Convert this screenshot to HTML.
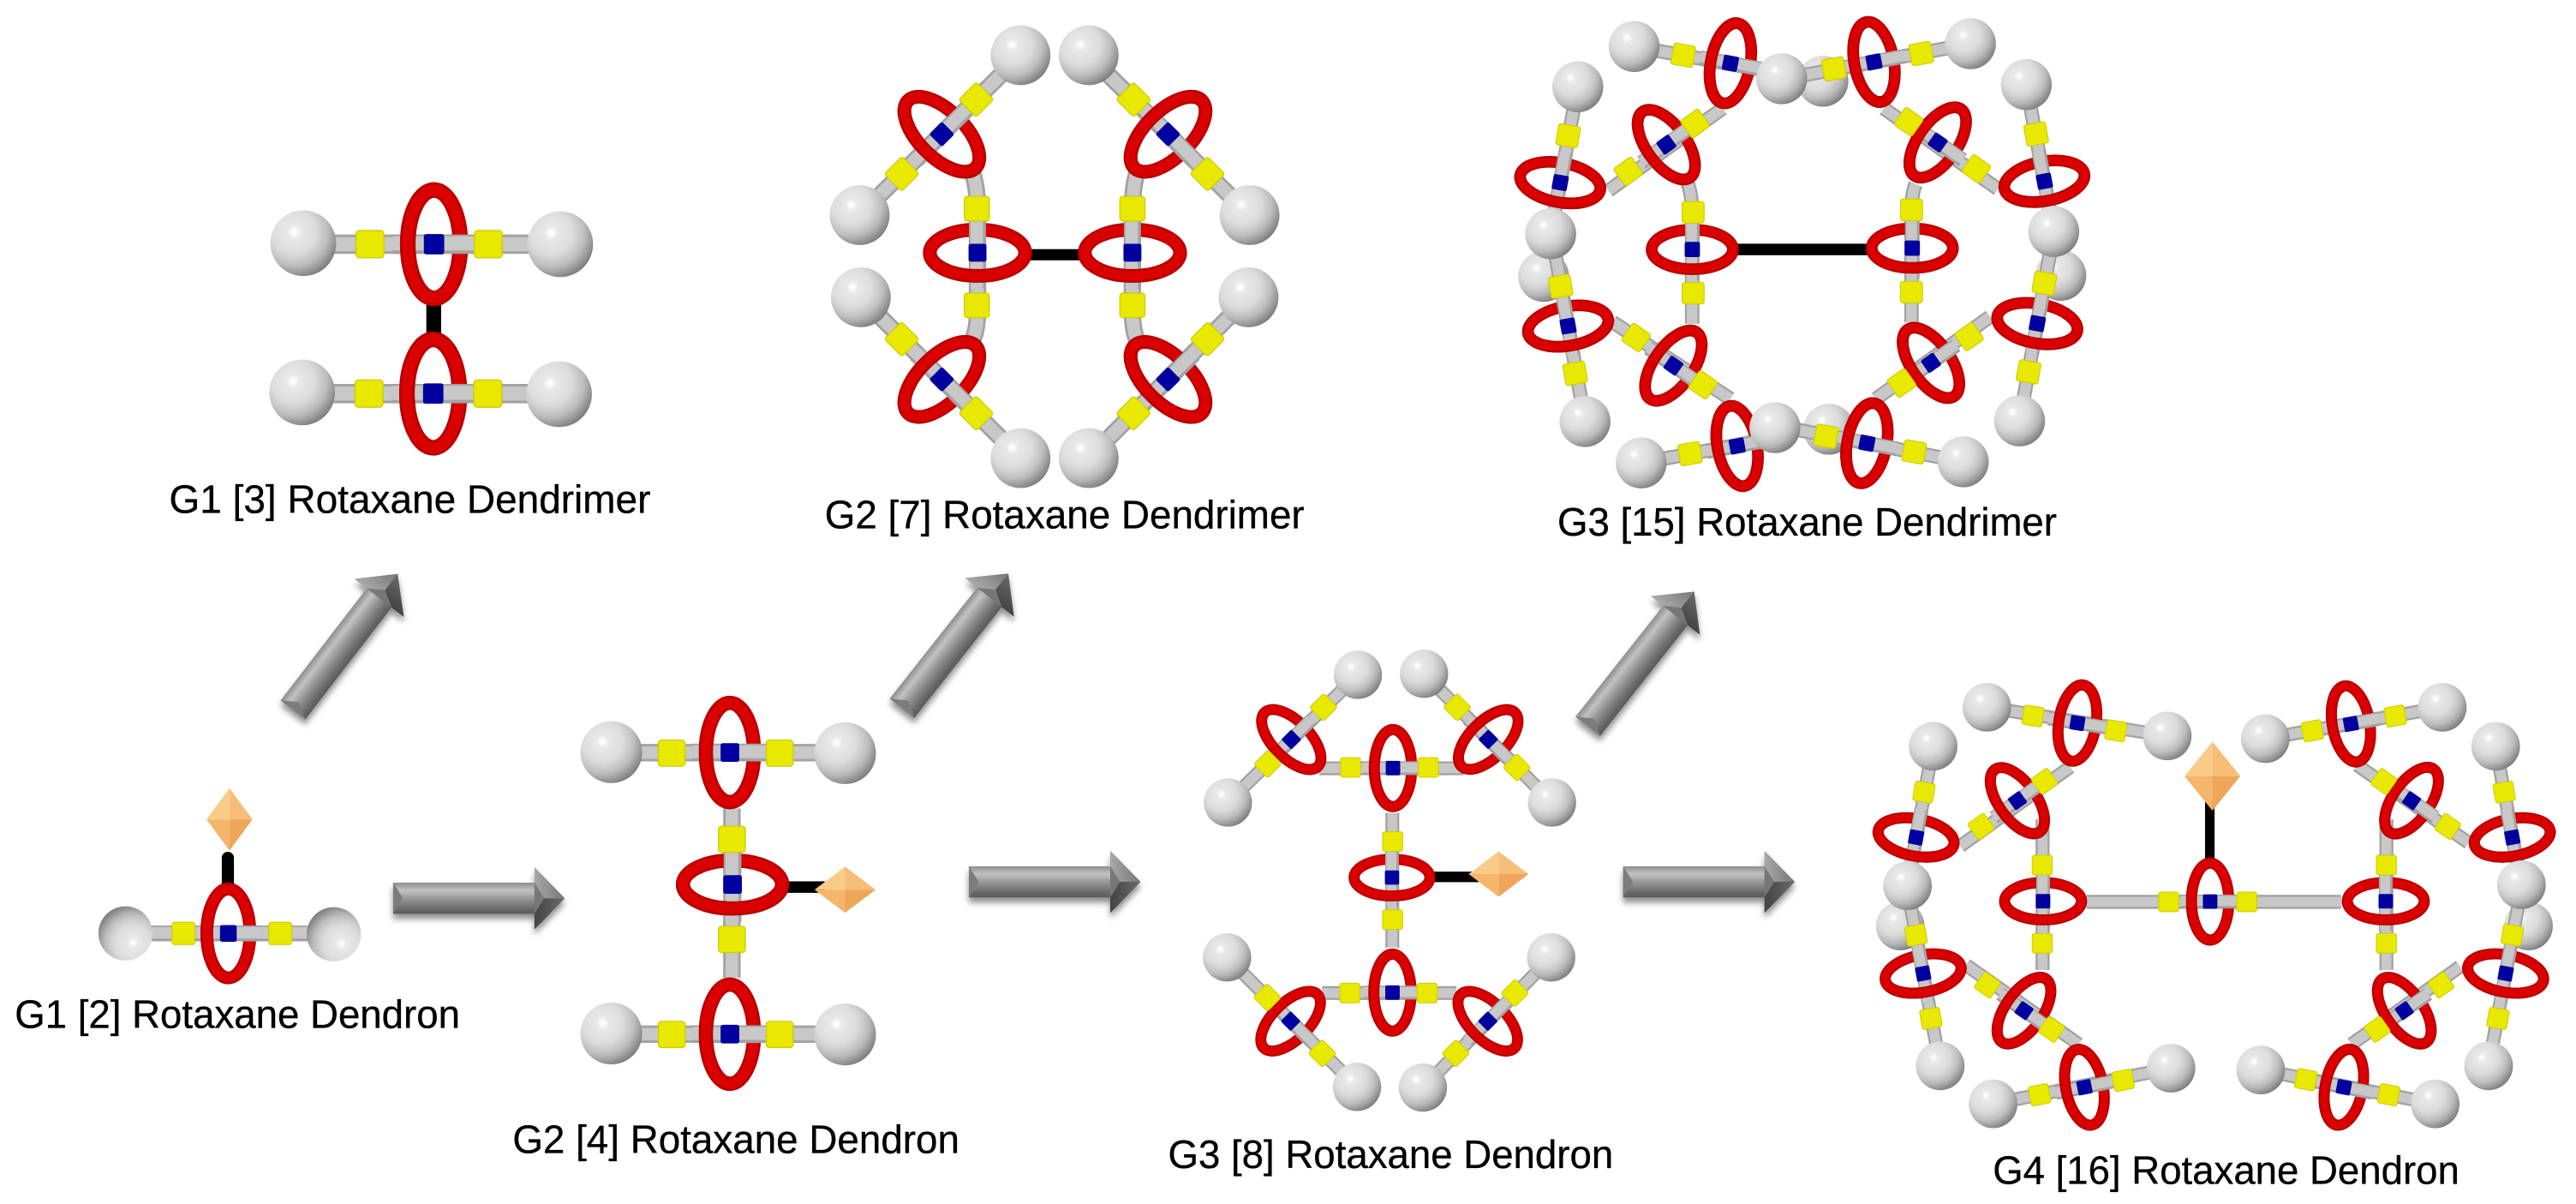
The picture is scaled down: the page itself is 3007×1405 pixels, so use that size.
<!DOCTYPE html>
<html><head><meta charset="utf-8"><title>Rotaxane Dendrimers and Dendrons</title>
<style>html,body{margin:0;padding:0;background:#fff}svg{display:block}text{font-family:"Liberation Sans",sans-serif;font-size:24px;fill:#000;stroke:#000;stroke-width:.18px}</style></head>
<body>
<svg xmlns="http://www.w3.org/2000/svg" width="3007" height="1405" viewBox="0 0 1568 732.65" preserveAspectRatio="none">
<defs>
<radialGradient id="bg" cx=".36" cy=".33" r=".74"><stop offset="0" stop-color="#fff"/><stop offset=".07" stop-color="#f7f7f7"/><stop offset=".13" stop-color="#e9e9e9"/><stop offset=".45" stop-color="#dcdcdc"/><stop offset=".7" stop-color="#bcbcbc"/><stop offset=".9" stop-color="#8c8c8c"/><stop offset="1" stop-color="#757575"/></radialGradient>
<linearGradient id="sh" x1="0" y1="0" x2="0" y2="1"><stop offset="0" stop-color="#8e8e8e"/><stop offset=".25" stop-color="#c2c2c2"/><stop offset=".5" stop-color="#999"/><stop offset=".8" stop-color="#6e6e6e"/><stop offset="1" stop-color="#595959"/></linearGradient>
<linearGradient id="hu" x1="0" y1="0" x2="1" y2="0"><stop offset="0" stop-color="#a8a8a8"/><stop offset="1" stop-color="#777"/></linearGradient>
<linearGradient id="hl" x1="0" y1="0" x2="1" y2="0"><stop offset="0" stop-color="#444"/><stop offset="1" stop-color="#6a6a6a"/></linearGradient>
<filter id="sd" x="-20%" y="-20%" width="140%" height="150%"><feGaussianBlur in="SourceAlpha" stdDeviation="2"/><feOffset dy="3"/><feComponentTransfer><feFuncA type="linear" slope=".45"/></feComponentTransfer><feMerge><feMergeNode/><feMergeNode in="SourceGraphic"/></feMerge></filter>
<g id="b"><circle r="20" fill="url(#bg)"/></g>
<g id="y"><rect x="-8.5" y="-8.3" width="17" height="16.6" rx="2" fill="#e8e800" stroke="#cccc00" stroke-width=".7"/></g>
<g id="u">
<ellipse rx="16" ry="33" fill="none" stroke="#b80000" stroke-width="9.5"/>
<ellipse rx="16" ry="33" fill="none" stroke="#da0000" stroke-width="6.4"/>
<rect x="-25" y="-5.9" width="50" height="11.8" fill="#a2a2a2"/>
<rect x="-25" y="-4.8" width="50" height="8.6" fill="#c8c8c8"/>
<rect x="-6.2" y="-6.2" width="12.4" height="12.4" rx="1.5" fill="#0000a0"/>
<path d="M0,-33A16,33 0 0 0 0,33" fill="none" stroke="#b80000" stroke-width="9.5"/>
<path d="M0,-33A16,33 0 0 0 0,33" fill="none" stroke="#da0000" stroke-width="6.4"/>
</g>
<g id="d"><path d="M0,-1L0,0L-1,0Z" fill="#f9cb88"/><path d="M0,-1L1,0L0,0Z" fill="#f6be78"/><path d="M-1,0L0,0L0,1Z" fill="#f5b56a"/><path d="M1,0L0,1L0,0Z" fill="#eda65a"/></g>
<g id="a"><path d="M0,-9.5H86V9.5H0Z" fill="url(#sh)"/><path d="M86,-19L104.5,0H86Z" fill="url(#hu)"/><path d="M86,19L104.5,0H86Z" fill="url(#hl)"/><path d="M86,-9.5V9.5L92,0Z" fill="#777"/><path d="M0,-9.5L6,0L0,9.5Z" fill="#7c7c7c"/></g>
</defs>
<rect width="1568" height="733" fill="#fff"/>

<!-- arrows -->
<g filter="url(#sd)"><use href="#a" transform="translate(178.3 432) rotate(-52.4)"/></g>
<g filter="url(#sd)"><use href="#a" transform="translate(549 431) rotate(-51.7)"/></g>
<g filter="url(#sd)"><use href="#a" transform="translate(966.5 442) rotate(-51.7)"/></g>
<g filter="url(#sd)"><use href="#a" transform="translate(239.3 546.6)"/></g>
<g filter="url(#sd)"><use href="#a" transform="translate(589.8 536.6)"/></g>
<g filter="url(#sd)"><use href="#a" transform="translate(988 536.6)"/></g>

<!-- G1 [3] dendrimer -->
<rect x="259.5" y="180" width="9" height="30" fill="#000"/>
<g fill="none" stroke="#a2a2a2" stroke-width="11.8"><path id="p1" d="M184,148.6H341M184,239.5H340"/></g>
<use href="#p1" fill="none" stroke="#c8c8c8" stroke-width="8.6"/>
<use href="#u" transform="translate(264.2 148.6)"/>
<use href="#u" transform="translate(263.7 239.5)"/>
<use href="#y" x="225.2" y="148.6"/><use href="#y" x="297.2" y="148.6"/><use href="#y" x="224.6" y="239.5"/><use href="#y" x="296.9" y="239.5"/>
<use href="#b" x="184.6" y="148"/><use href="#b" x="341" y="148.6"/><use href="#b" x="183.9" y="238.8"/><use href="#b" x="340.3" y="239.9"/>

<!-- G2 [7] dendrimer -->
<rect x="625" y="151.6" width="35" height="6.8" fill="#000"/>
<g fill="none" stroke="#a2a2a2" stroke-width="10.6"><path id="p2" d="M621.2,33.6L523.3,130.9M662.7,33.6L760.6,130.9M524,180.9L621.2,278.8M760,180.9L662.7,278.8M592,105Q595,115 595,127V190Q595,200 592,207M692,105Q689.3,115 689.3,127V190Q689.3,200 692,207"/></g>
<use href="#p2" fill="none" stroke="#c8c8c8" stroke-width="7.6"/>
<use href="#u" transform="translate(595 153.8) rotate(-90) scale(.88)"/>
<use href="#u" transform="translate(689.3 153.8) rotate(-90) scale(.88)"/>
<use href="#u" transform="translate(573.3 81.7) rotate(-45) scale(.88)"/>
<use href="#u" transform="translate(711 81.7) rotate(45) scale(.88)"/>
<use href="#u" transform="translate(573.3 230.9) rotate(45) scale(.88)"/>
<use href="#u" transform="translate(711 230.9) rotate(-45) scale(.88)"/>
<use href="#y" transform="translate(594.6 127) scale(.9)"/><use href="#y" transform="translate(594.6 185.8) scale(.9)"/><use href="#y" transform="translate(689.3 127) scale(.9)"/><use href="#y" transform="translate(689.3 185.8) scale(.9)"/>
<use href="#y" transform="translate(594.2 60.6) rotate(-45) scale(.9)"/><use href="#y" transform="translate(548.9 105.8) rotate(-45) scale(.9)"/>
<use href="#y" transform="translate(690 60.6) rotate(45) scale(.9)"/><use href="#y" transform="translate(735 105.8) rotate(45) scale(.9)"/>
<use href="#y" transform="translate(548.9 206.4) rotate(45) scale(.9)"/><use href="#y" transform="translate(594.2 251.5) rotate(45) scale(.9)"/>
<use href="#y" transform="translate(735 206.4) rotate(-45) scale(.9)"/><use href="#y" transform="translate(690 251.5) rotate(-45) scale(.9)"/>
<use href="#b" transform="translate(621.2 33.6) scale(.91)"/><use href="#b" transform="translate(662.7 33.6) scale(.91)"/><use href="#b" transform="translate(523.3 130.9) scale(.91)"/><use href="#b" transform="translate(760.6 130.9) scale(.91)"/>
<use href="#b" transform="translate(524 180.9) scale(.91)"/><use href="#b" transform="translate(760 180.9) scale(.91)"/><use href="#b" transform="translate(621.2 278.8) scale(.91)"/><use href="#b" transform="translate(662.7 278.8) scale(.91)"/>

<!-- G3 [15] dendrimer -->
<use href="#b" transform="translate(1109.6 49.4) scale(.775)"/><use href="#b" transform="translate(939.6 168.2) scale(.775)"/><use href="#b" transform="translate(1113.2 261.2) scale(.775)"/><use href="#b" transform="translate(1254.4 167.6) scale(.775)"/>
<rect x="1055" y="148.3" width="84" height="7" fill="#000"/>
<g fill="none" stroke="#a2a2a2" stroke-width="8.8"><path id="p3" d="M994.7,28.3L1085,44.8M1085,48.2L1199.4,26.6M960.4,52.8L943.9,142.2M946.3,152L964.8,256.5M999,281.7L1085,265.6M1085,259.8L1195,281M1233.4,51.5L1250.1,140.9M1248.2,152L1229.3,256.1M1048.5,66L979.1,116M1146.7,66L1216.1,115M1053.3,242.7L981.5,195.9M1211.3,192.7L1141.9,242.7M1027,111Q1030,118 1030,130V197M1166,112Q1163.5,118 1163.5,130V196"/></g>
<use href="#p3" fill="none" stroke="#c8c8c8" stroke-width="6.4"/>
<use href="#u" transform="translate(1030.1 151.8) rotate(-90) scale(.75)"/><use href="#u" transform="translate(1164 151) rotate(-90) scale(.75)"/>
<use href="#u" transform="translate(1014.3 88) rotate(-36) scale(.75)"/><use href="#u" transform="translate(1179.5 86.7) rotate(35) scale(.75)"/>
<use href="#u" transform="translate(1018.6 222.5) rotate(35) scale(.75)"/><use href="#u" transform="translate(1175.4 220.8) rotate(-35) scale(.75)"/>
<use href="#u" transform="translate(1053.3 38.5) rotate(10.7) scale(.75)"/><use href="#u" transform="translate(1140.7 37.7) rotate(-10.7) scale(.75)"/>
<use href="#u" transform="translate(949.7 111.1) rotate(-79.6) scale(.75)"/><use href="#u" transform="translate(954.5 198.4) rotate(-100) scale(.75)"/>
<use href="#u" transform="translate(1057.4 271.4) rotate(-10.7) scale(.75)"/><use href="#u" transform="translate(1136.4 269.7) rotate(10.7) scale(.75)"/>
<use href="#u" transform="translate(1244.4 110.3) rotate(-100.6) scale(.75)"/><use href="#u" transform="translate(1240.1 196.9) rotate(-79.7) scale(.75)"/>
<use href="#y" transform="translate(1024.6 33.6) rotate(10) scale(.79)"/><use href="#y" transform="translate(1116.3 41.9) rotate(-10) scale(.79)"/><use href="#y" transform="translate(1169.4 32.6) rotate(-10) scale(.79)"/>
<use href="#y" transform="translate(1031.8 75.2) rotate(-36) scale(.79)"/><use href="#y" transform="translate(991.1 104.3) rotate(-36) scale(.79)"/>
<use href="#y" transform="translate(954.5 82.6) rotate(10) scale(.79)"/><use href="#y" transform="translate(949.9 174.2) rotate(-10) scale(.79)"/><use href="#y" transform="translate(958.8 227.2) rotate(-10) scale(.79)"/>
<use href="#y" transform="translate(1239.4 81.5) rotate(-10) scale(.79)"/><use href="#y" transform="translate(1244.4 172.4) rotate(10) scale(.79)"/><use href="#y" transform="translate(1234.8 226.3) rotate(10) scale(.79)"/>
<use href="#y" transform="translate(1028.7 276.1) rotate(-10) scale(.79)"/><use href="#y" transform="translate(1111.5 265.5) rotate(10) scale(.79)"/><use href="#y" transform="translate(1165.1 275) rotate(10) scale(.79)"/>
<use href="#y" transform="translate(1030.6 129.2) scale(.79)"/><use href="#y" transform="translate(1030.6 178.4) scale(.79)"/><use href="#y" transform="translate(1163.5 127.7) scale(.79)"/><use href="#y" transform="translate(1163.5 177.8) scale(.79)"/>
<use href="#y" transform="translate(1161.8 74.1) rotate(35) scale(.79)"/><use href="#y" transform="translate(1203 102.8) rotate(35) scale(.79)"/>
<use href="#y" transform="translate(995.9 205.4) rotate(35) scale(.79)"/><use href="#y" transform="translate(1036.6 234.2) rotate(35) scale(.79)"/>
<use href="#y" transform="translate(1198.6 204.8) rotate(-35) scale(.79)"/><use href="#y" transform="translate(1157.5 233.1) rotate(-35) scale(.79)"/>
<use href="#b" transform="translate(994.7 28.3) scale(.775)"/><use href="#b" transform="translate(1084.5 47.9) scale(.775)"/><use href="#b" transform="translate(1199.4 26.6) scale(.775)"/>
<use href="#b" transform="translate(960.4 52.8) scale(.775)"/><use href="#b" transform="translate(943.9 142.2) scale(.775)"/><use href="#b" transform="translate(964.8 256.5) scale(.775)"/>
<use href="#b" transform="translate(999 281.7) scale(.775)"/><use href="#b" transform="translate(1080.4 260.2) scale(.775)"/><use href="#b" transform="translate(1195 281) scale(.775)"/>
<use href="#b" transform="translate(1233.4 51.5) scale(.775)"/><use href="#b" transform="translate(1250.1 140.9) scale(.775)"/><use href="#b" transform="translate(1229.3 256.1) scale(.775)"/>

<!-- G1 [2] dendron -->
<path d="M138.7,540V522" stroke="#000" stroke-width="7.4" stroke-linecap="round" fill="none"/>
<use href="#d" transform="translate(139.7 498.6) scale(14 19)"/>
<path d="M76,568H203" stroke="#a2a2a2" stroke-width="9.6" fill="none"/><path d="M76,567.6H203" stroke="#c8c8c8" stroke-width="7" fill="none"/>
<use href="#u" transform="translate(139 568) scale(.82)"/>
<use href="#y" transform="translate(111.7 568) scale(.82)"/><use href="#y" transform="translate(170.6 568) scale(.82)"/>
<use href="#b" transform="translate(76.4 568) rotate(180) scale(.825)"/><use href="#b" transform="translate(203.2 568.5) rotate(180) scale(.825)"/>

<!-- G2 [4] dendron -->
<rect x="478" y="536.3" width="24" height="7" fill="#000"/>
<use href="#d" transform="translate(514.4 541.4) scale(18.6 14)"/>
<g fill="none" stroke="#a2a2a2" stroke-width="10.6"><path id="p4" d="M372,458H514M372,629.3H514M445.5,492V595"/></g>
<use href="#p4" fill="none" stroke="#c8c8c8" stroke-width="7.6"/>
<use href="#u" transform="translate(444.3 457.9) scale(.915)"/>
<use href="#u" transform="translate(445.9 538.2) rotate(-90) scale(.915)"/>
<use href="#u" transform="translate(444.3 629.3) scale(.915)"/>
<use href="#y" transform="translate(408.9 458.3) scale(.96)"/><use href="#y" transform="translate(474.6 458.3) scale(.96)"/>
<use href="#y" transform="translate(445.5 510.7) scale(.96)"/><use href="#y" transform="translate(445.5 571.6) scale(.96)"/>
<use href="#y" transform="translate(408.9 629.5) scale(.96)"/><use href="#y" transform="translate(474.6 629.5) scale(.96)"/>
<use href="#b" transform="translate(372.1 457.7) scale(.94)"/><use href="#b" transform="translate(514.4 458.3) scale(.94)"/><use href="#b" transform="translate(372.1 628.9) scale(.94)"/><use href="#b" transform="translate(514.4 629.5) scale(.94)"/>

<!-- G3 [8] dendron -->
<rect x="872" y="530.4" width="28" height="6.4" fill="#000"/>
<use href="#d" transform="translate(912.2 531.9) scale(18.2 13.8)"/>
<g fill="none" stroke="#a2a2a2" stroke-width="8.4"><path id="p5" d="M826.5,410.6L747.4,488.3M866.8,410L944.7,488.3M746.9,582.6L826,661.4M944.2,582.6L866.1,661.8M803,467.5H890.8M804.8,604.3H886.5M847.5,494.7V576.6"/></g>
<use href="#p5" fill="none" stroke="#c8c8c8" stroke-width="6"/>
<use href="#u" transform="translate(847.3 534) rotate(-90) scale(.7)"/>
<use href="#u" transform="translate(847.9 467.4) scale(.71)"/>
<use href="#u" transform="translate(847.6 604) scale(.71)"/>
<use href="#u" transform="translate(786 450) rotate(-44.5) scale(.7)"/>
<use href="#u" transform="translate(905.9 450) rotate(45) scale(.7)"/>
<use href="#u" transform="translate(785.6 621.4) rotate(45) scale(.7)"/>
<use href="#u" transform="translate(905.6 621.4) rotate(-45) scale(.7)"/>
<use href="#y" transform="translate(847.7 512.1) scale(.72)"/><use href="#y" transform="translate(847.7 559.6) scale(.72)"/>
<use href="#y" transform="translate(822.1 467) scale(.72)"/><use href="#y" transform="translate(869.4 467) scale(.72)"/>
<use href="#y" transform="translate(821.6 604.3) scale(.72)"/><use href="#y" transform="translate(868.7 604.3) scale(.72)"/>
<use href="#y" transform="translate(805.6 430.4) rotate(-45) scale(.72)"/><use href="#y" transform="translate(771.7 464.9) rotate(-45) scale(.72)"/>
<use href="#y" transform="translate(887 430.4) rotate(45) scale(.72)"/><use href="#y" transform="translate(923.3 467) rotate(45) scale(.72)"/>
<use href="#y" transform="translate(771.4 606.9) rotate(45) scale(.72)"/><use href="#y" transform="translate(804.8 641) rotate(45) scale(.72)"/>
<use href="#y" transform="translate(922.1 604.3) rotate(-45) scale(.72)"/><use href="#y" transform="translate(886.1 641) rotate(-45) scale(.72)"/>
<use href="#b" transform="translate(826.5 410.6) scale(.735)"/><use href="#b" transform="translate(866.8 410) scale(.735)"/><use href="#b" transform="translate(747.4 488.3) scale(.735)"/><use href="#b" transform="translate(944.7 488.3) scale(.735)"/>
<use href="#b" transform="translate(746.9 582.6) scale(.735)"/><use href="#b" transform="translate(944.2 582.6) scale(.735)"/><use href="#b" transform="translate(826 661.4) scale(.735)"/><use href="#b" transform="translate(866.1 661.8) scale(.735)"/>

<!-- G4 [16] dendron -->
<use href="#b" transform="translate(1156.7 563.5) scale(.74)"/><use href="#b" transform="translate(1539.1 563.5) scale(.74)"/>
<rect x="1342.2" y="488" width="5.8" height="36" fill="#000"/>
<use href="#d" transform="translate(1346.7 472.3) scale(17 21)"/>
<g fill="none" stroke="#a2a2a2" stroke-width="8.5"><path id="p6" d="M1270,548.8H1425M1243.3,498.6V590.3M1452.6,498.6V590.3M1260.1,466.7L1193.2,514.9M1265.3,635.4L1196.7,587.2M1434.8,465.6L1502.6,512.8M1497.4,588.2L1431.4,635.4M1209.4,430.4L1319.2,447.8M1176.7,454.1L1161.1,539M1162.4,548L1181,648.6M1213.2,671.7L1321.5,650M1378.9,449.5L1486.6,430.4M1519.1,454.1L1534.8,538.4M1533.4,548L1514.8,648.6M1376.1,651.1L1482.3,671.7"/></g>
<use href="#p6" fill="none" stroke="#c8c8c8" stroke-width="6.1"/>
<use href="#u" transform="translate(1345.3 548.6) scale(.71)"/>
<use href="#u" transform="translate(1243.6 548.4) rotate(-90) scale(.71)"/><use href="#u" transform="translate(1452.2 548.4) rotate(-90) scale(.71)"/>
<use href="#u" transform="translate(1228 487.2) rotate(-35.8) scale(.71)"/><use href="#u" transform="translate(1232 615) rotate(35) scale(.71)"/>
<use href="#u" transform="translate(1467.9 487.2) rotate(35) scale(.71)"/><use href="#u" transform="translate(1463.5 615) rotate(-35) scale(.71)"/>
<use href="#u" transform="translate(1264.5 440) rotate(9) scale(.71)"/><use href="#u" transform="translate(1166.3 509.6) rotate(-79.6) scale(.71)"/>
<use href="#u" transform="translate(1170.6 592.4) rotate(-100.5) scale(.71)"/><use href="#u" transform="translate(1268.8 661.6) rotate(-11.3) scale(.71)"/>
<use href="#u" transform="translate(1431 440.5) rotate(-10) scale(.71)"/><use href="#u" transform="translate(1529.2 509.6) rotate(-100.5) scale(.71)"/>
<use href="#u" transform="translate(1525.2 592.4) rotate(-79.5) scale(.71)"/><use href="#u" transform="translate(1426.7 661.6) rotate(11) scale(.71)"/>
<use href="#y" transform="translate(1320.1 548.8) scale(.72)"/><use href="#y" transform="translate(1367.6 548.8) scale(.72)"/>
<use href="#y" transform="translate(1243.1 526.4) scale(.72)"/><use href="#y" transform="translate(1243.1 574) scale(.72)"/><use href="#y" transform="translate(1452.6 526.4) scale(.72)"/><use href="#y" transform="translate(1452.6 574) scale(.72)"/>
<use href="#y" transform="translate(1244.5 475.5) rotate(-36) scale(.72)"/><use href="#y" transform="translate(1205.9 502.9) rotate(-36) scale(.72)"/>
<use href="#y" transform="translate(1248.8 626.4) rotate(35) scale(.72)"/><use href="#y" transform="translate(1209.7 599.4) rotate(35) scale(.72)"/>
<use href="#y" transform="translate(1451 475.5) rotate(35) scale(.72)"/><use href="#y" transform="translate(1489.9 502.9) rotate(35) scale(.72)"/>
<use href="#y" transform="translate(1485.8 599.4) rotate(-35) scale(.72)"/><use href="#y" transform="translate(1447 626.4) rotate(-35) scale(.72)"/>
<use href="#y" transform="translate(1237.5 435.7) rotate(9) scale(.72)"/><use href="#y" transform="translate(1287.9 444.7) rotate(9) scale(.72)"/>
<use href="#y" transform="translate(1171.1 482) rotate(10) scale(.72)"/><use href="#y" transform="translate(1166.3 569) rotate(-10) scale(.72)"/><use href="#y" transform="translate(1175.3 619.7) rotate(-10) scale(.72)"/>
<use href="#y" transform="translate(1241.5 666.2) rotate(-11) scale(.72)"/><use href="#y" transform="translate(1292.3 657.4) rotate(-11) scale(.72)"/>
<use href="#y" transform="translate(1407.5 444.7) rotate(-10) scale(.72)"/><use href="#y" transform="translate(1458 435.7) rotate(-10) scale(.72)"/>
<use href="#y" transform="translate(1524.3 482) rotate(-10) scale(.72)"/><use href="#y" transform="translate(1529.2 569) rotate(10) scale(.72)"/><use href="#y" transform="translate(1520.5 619.7) rotate(10) scale(.72)"/>
<use href="#y" transform="translate(1403.6 657) rotate(11) scale(.72)"/><use href="#y" transform="translate(1454 666.2) rotate(11) scale(.72)"/>
<use href="#b" transform="translate(1209.4 430.4) scale(.74)"/><use href="#b" transform="translate(1319.2 447.8) scale(.74)"/><use href="#b" transform="translate(1176.7 454.1) scale(.74)"/><use href="#b" transform="translate(1161.1 539) scale(.74)"/><use href="#b" transform="translate(1181 648.6) scale(.74)"/><use href="#b" transform="translate(1213.2 671.7) scale(.74)"/><use href="#b" transform="translate(1321.5 650) scale(.74)"/>
<use href="#b" transform="translate(1378.9 449.5) scale(.74)"/><use href="#b" transform="translate(1486.6 430.4) scale(.74)"/><use href="#b" transform="translate(1519.1 454.1) scale(.74)"/><use href="#b" transform="translate(1534.8 538.4) scale(.74)"/><use href="#b" transform="translate(1514.8 648.6) scale(.74)"/><use href="#b" transform="translate(1376.1 651.1) scale(.74)"/><use href="#b" transform="translate(1482.3 671.7) scale(.74)"/>

<!-- labels -->
<text x="103" y="312" textLength="293" lengthAdjust="spacingAndGlyphs">G1 [3] Rotaxane Dendrimer</text>
<text x="502" y="321.5" textLength="292" lengthAdjust="spacingAndGlyphs">G2 [7] Rotaxane Dendrimer</text>
<text x="948" y="326" textLength="304" lengthAdjust="spacingAndGlyphs">G3 [15] Rotaxane Dendrimer</text>
<text x="9" y="625.5" textLength="271" lengthAdjust="spacingAndGlyphs">G1 [2] Rotaxane Dendron</text>
<text x="312" y="701.5" textLength="272" lengthAdjust="spacingAndGlyphs">G2 [4] Rotaxane Dendron</text>
<text x="711" y="710.8" textLength="271" lengthAdjust="spacingAndGlyphs">G3 [8] Rotaxane Dendron</text>
<text x="1213" y="720.3" textLength="284" lengthAdjust="spacingAndGlyphs">G4 [16] Rotaxane Dendron</text>
</svg>
</body></html>
